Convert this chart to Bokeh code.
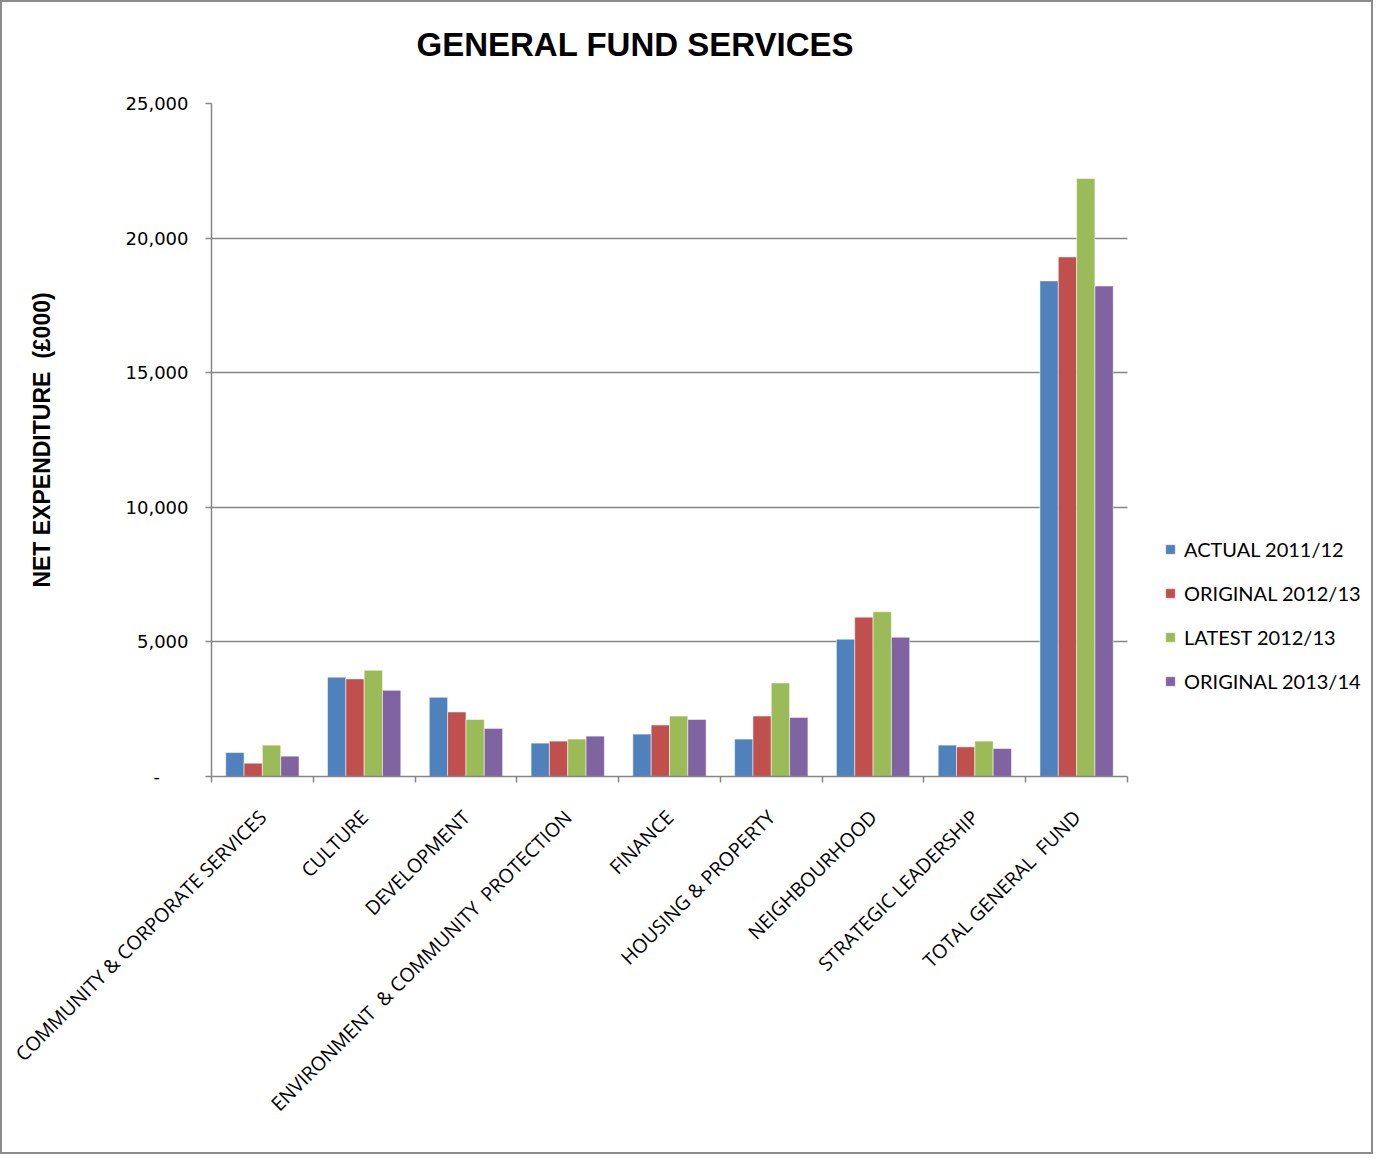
from bokeh.plotting import figure
from bokeh.models import (ColumnDataSource, FixedTicker, NumeralTickFormatter, Legend,
                          LegendItem, Range1d)
from bokeh.transform import dodge
from bokeh.embed import file_html
from bokeh.resources import INLINE
from math import pi

categories = [
    "COMMUNITY & CORPORATE SERVICES",
    "CULTURE",
    "DEVELOPMENT",
    "ENVIRONMENT \u00a0& COMMUNITY \u00a0PROTECTION",
    "FINANCE",
    "HOUSING & PROPERTY",
    "NEIGHBOURHOOD",
    "STRATEGIC LEADERSHIP",
    "TOTAL GENERAL \u00a0FUND",
]
actual_2011_12 = [890, 3690, 2940, 1240, 1575, 1390, 5100, 1165, 18410]
original_2012_13 = [495, 3625, 2395, 1315, 1910, 2245, 5920, 1100, 19300]
latest_2012_13 = [1165, 3945, 2120, 1390, 2245, 3475, 6120, 1315, 22210]
original_2013_14 = [755, 3200, 1785, 1500, 2120, 2195, 5175, 1040, 18220]
series_names = ["ACTUAL 2011/12", "ORIGINAL 2012/13", "LATEST 2012/13", "ORIGINAL 2013/14"]
series_colors = ["#4F81BD", "#C0504D", "#9BBB59", "#8064A2"]
y_ticks = [0, 5000, 10000, 15000, 20000, 25000]

n = len(categories)
W, H = 1373, 1154
LEFT, TOP, BOTTOM = 209, 101, 380
PLOT_W = 916  # width of the category area in px
frame_w = W - LEFT
x_end = n * frame_w / PLOT_W

source = ColumnDataSource(dict(
    x=[i + 0.5 for i in range(n)],
    s0=actual_2011_12, s1=original_2012_13, s2=latest_2012_13, s3=original_2013_14,
))

p = figure(width=W, height=H, x_range=Range1d(0, x_end),
           y_range=Range1d(0, 25000), output_backend="svg", toolbar_location=None,
           min_border_left=LEFT, min_border_top=TOP, min_border_right=0,
           min_border_bottom=BOTTOM)
p.styles = {"border": "2px solid #8c8c8c"}
p.outline_line_color = None
p.background_fill_color = "white"
p.border_fill_color = "white"

# horizontal gridlines limited to the category area
g = p.ygrid[0]
g.ticker = FixedTicker(ticks=y_ticks, minor_ticks=[])
if "cross_bounds" in g.properties():
    g.cross_bounds = (0, n)
    g.grid_line_color = "#868686"
    g.grid_line_width = 1.5
else:
    g.grid_line_color = None
    p.segment(x0=[0] * len(y_ticks), x1=[n] * len(y_ticks), y0=y_ticks, y1=y_ticks,
              line_color="#868686", line_width=1.5)
p.xgrid.grid_line_color = None

bar_w = 0.18
offsets = [-0.27, -0.09, 0.09, 0.27]
renderers = []
for k in range(4):
    r = p.vbar(x=dodge("x", offsets[k], range=p.x_range), top="s%d" % k, width=bar_w,
               bottom=0, source=source, fill_color=series_colors[k],
               line_color="white", line_alpha=0.5, line_width=1)
    renderers.append(r)

# Title
p.title.text = "GENERAL FUND SERVICES\n"
p.title.text_font = "Liberation Sans"
p.title.text_font_size = "33px"
p.title.text_font_style = "bold"
p.title.text_color = "black"
p.title.text_line_height = 1.1
p.title.align = "left"
p.title.offset = 205
p.title.standoff = 0

# X axis
xa = p.xaxis[0]
xa.bounds = (0, n)
xa.ticker = FixedTicker(ticks=[i + 0.5 for i in range(n)],
                        minor_ticks=list(range(n + 1)))
xa.major_label_overrides = {i + 0.5: c for i, c in enumerate(categories)}
xa.major_label_orientation = pi / 4
xa.major_tick_in = 0
xa.major_tick_out = 0
xa.minor_tick_in = 0
xa.minor_tick_out = 6
xa.minor_tick_line_color = "#868686"
xa.minor_tick_line_width = 1.5
xa.axis_line_color = "#868686"
xa.axis_line_width = 1.5
xa.major_label_text_font = "Open Sans"
xa.major_label_text_font_size = "19.5px"
xa.major_label_text_color = "black"
xa.major_label_standoff = 31

# Y axis
ya = p.yaxis[0]
ya.ticker = FixedTicker(ticks=y_ticks, minor_ticks=[])
ya.formatter = NumeralTickFormatter(format="0,0")
ya.major_label_overrides = {0: "-\u00a0\u00a0\u00a0\u00a0\u00a0"}
ya.major_tick_in = 0
ya.major_tick_out = 6
ya.major_tick_line_color = "#868686"
ya.major_tick_line_width = 1.5
ya.axis_line_color = "#868686"
ya.axis_line_width = 1.5
ya.major_label_text_font = "DejaVu Sans"
ya.major_label_text_font_size = "18px"
ya.major_label_text_color = "black"
ya.major_label_standoff = 17
ya.axis_label = "NET EXPENDITURE \u00a0(£000)"
ya.axis_label_text_font = "Liberation Sans"
ya.axis_label_text_font_size = "23px"
ya.axis_label_text_font_style = "bold"
ya.axis_label_text_color = "black"
ya.axis_label_standoff = 68

legend = Legend(items=[LegendItem(label=series_names[k], renderers=[renderers[k]]) for k in range(4)],
                location=(953, 83))
legend.glyph_width = 12
legend.glyph_height = 12
legend.label_height = 20
legend.spacing = 20
legend.label_standoff = 8
legend.padding = 0
legend.margin = 0
legend.border_line_color = None
legend.background_fill_alpha = 0
legend.label_text_font = "Lato"
legend.label_text_font_size = "20px"
legend.label_text_color = "black"
p.add_layout(legend)

open("out.html", "w").write(file_html(p, INLINE))
